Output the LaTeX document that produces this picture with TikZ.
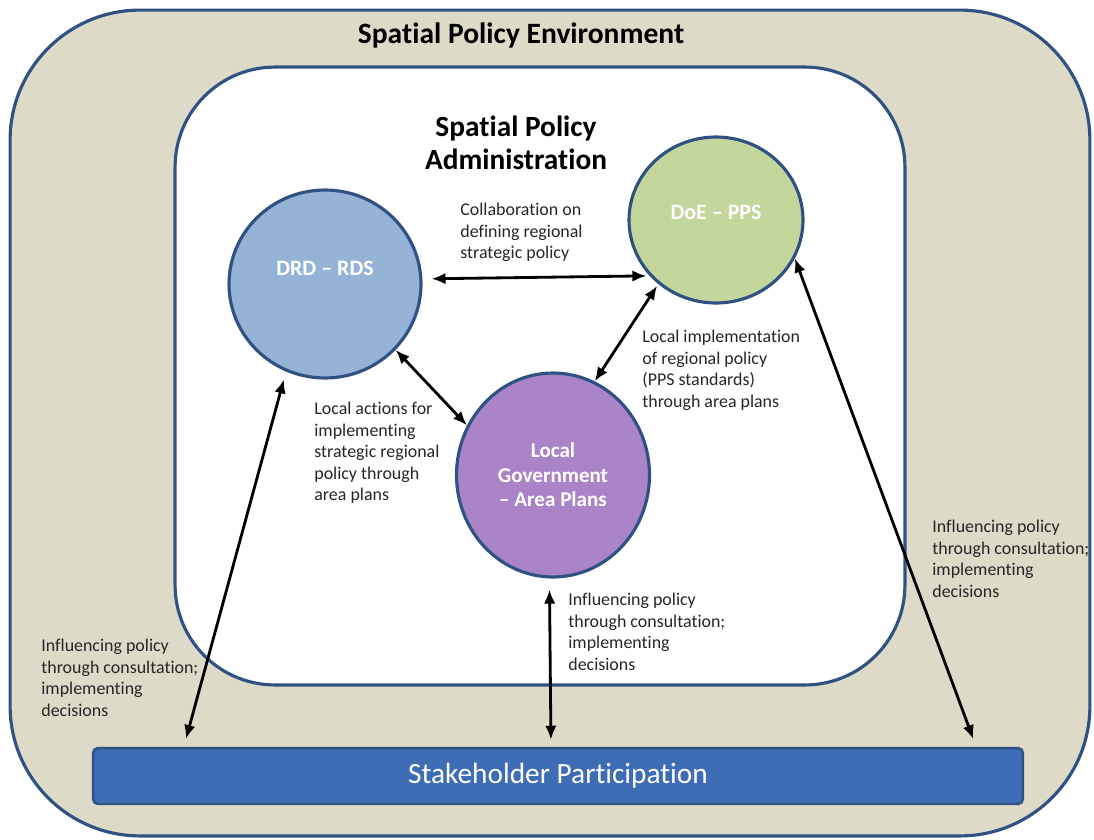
\documentclass[tikz,border=0pt]{standalone}
\usepackage{fontspec}
\setmainfont{Carlito}[Ligatures=NoCommon]
\usetikzlibrary{shapes.geometric,arrows.meta}
\definecolor{envbeige}{HTML}{DDDAC8}
\definecolor{frameblue}{HTML}{2F5283}
\definecolor{drdblue}{HTML}{95B3D7}
\definecolor{doegreen}{HTML}{C3D69B}
\definecolor{lgpurple}{HTML}{AA84C7}
\definecolor{stakeblue}{HTML}{3E6DB5}
\tikzset{
	agency/.style={ellipse,draw=frameblue,line width=1.8pt,inner sep=0pt,text=white,font=\fontsize{12.5}{14}\selectfont\bfseries,align=center},
	note/.style={anchor=north west,align=left,inner sep=0pt,text=black!85,font=\fontsize{10.2}{12.2}\selectfont},
	link/.style={{Latex[length=8pt,width=6.5pt]}-{Latex[length=8pt,width=6.5pt]},line width=1.6pt}
}
\begin{document}
\begin{tikzpicture}[x=0.02cm,y=-0.02cm]
	\useasboundingbox (0,0) rectangle (1094,839);
	% frames
	\node (env)[rectangle,rounded corners=2.6cm,minimum width=21.6cm,minimum height=16.52cm,draw=frameblue,line width=1.8pt,fill=envbeige] at (550,423) {};
	\node (envtitle)[font=\fontsize{16.8}{19}\selectfont\bfseries] at (521,35) {Spatial Policy Environment};
	\node (admin)[rectangle,rounded corners=2cm,minimum width=14.6cm,minimum height=12.36cm,draw=frameblue,line width=1.8pt,fill=white] at (540,376) {};
	\node (admintitle)[align=center,font=\fontsize{16.7}{18.7}\selectfont\bfseries] at (516,143) {Spatial Policy\\Administration};
	% agencies
	\node (drd)[agency,fill=drdblue,minimum width=3.84cm,minimum height=3.76cm,text depth=0.62cm] at (325,284) {DRD -- RDS};
	\node (doe)[agency,fill=doegreen,minimum width=3.48cm,minimum height=3.32cm,text depth=0.3cm] at (716,220) {DoE -- PPS};
	\node (lg)[agency,fill=lgpurple,minimum width=3.86cm,minimum height=4.08cm,font=\fontsize{12}{14}\selectfont\bfseries] at (553,475) {Local\\Government\\-- Area Plans};
	\node (stake)[rectangle,rounded corners=0.1cm,minimum width=18.6cm,minimum height=1.12cm,draw=frameblue,line width=1.4pt,fill=stakeblue,text=white,font=\fontsize{16.7}{19}\selectfont] at (558,776) {Stakeholder Participation};
	% links
	\draw[link,shorten <=0.18cm,shorten >=0.06cm] (drd.3) -- (doe.220);
	\draw[link] (drd.-43) -- (lg.150);
	\draw[link,shorten <=0.04cm] (doe.228) -- (lg.66);
	\draw[link,shorten <=0.16cm,shorten >=0.16cm] (drd.246) -- ([xshift=1.84cm]stake.north west);
	\draw[link,shorten <=0.22cm,shorten >=0.14cm] (lg.268) -- ([xshift=-0.14cm]stake.north);
	\draw[link,shorten >=0.16cm] (doe.-26) -- ([xshift=-0.96cm]stake.north east);
	% notes
	\node (collab)[note] at (460,203) {Collaboration on\\defining regional\\strategic policy};
	\node (implnote)[note] at (642,330) {Local implementation\\of regional policy\\(PPS standards)\\through area plans};
	\node (actnote)[note] at (314,402) {Local actions for\\implementing\\strategic regional\\policy through\\area plans};
	\node (inflmid)[note] at (568,593) {Influencing policy\\through consultation;\\implementing\\decisions};
	\node (inflleft)[note] at (41,639) {Influencing policy\\through consultation;\\implementing\\decisions};
	\node (inflright)[note] at (932,520) {Influencing policy\\through consultation;\\implementing\\decisions};
\end{tikzpicture}
\end{document}
